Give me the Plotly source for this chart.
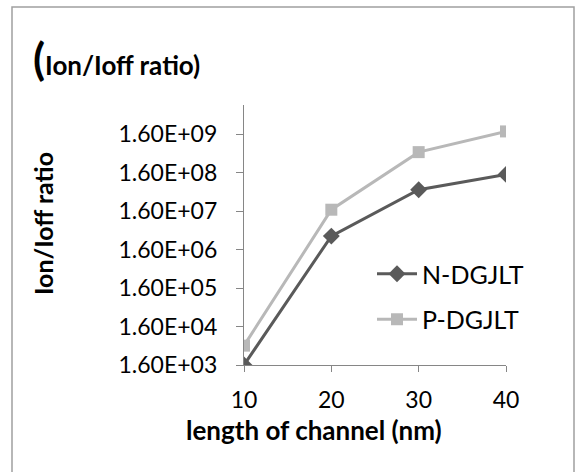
import math
import plotly.graph_objects as go

# Data
channel_length = [10, 20, 30, 40]
n_dgjlt = [1600, 3.6e6, 5.8e7, 1.45e8]
p_dgjlt = [5.1e3, 1.75e7, 5.5e8, 1.9e9]
y_tick_vals = [1.6e3, 1.6e4, 1.6e5, 1.6e6, 1.6e7, 1.6e8, 1.6e9]
y_tick_text = ["1.60E+03", "1.60E+04", "1.60E+05", "1.60E+06", "1.60E+07", "1.60E+08", "1.60E+09"]
x_tick_vals = [10, 20, 30, 40]

FONT = "Lato, 'Open Sans', sans-serif"
W, H = 579, 472
L, R, T, B = 244, 73, 105, 107
pw, ph = W - L - R, H - T - B

def px_x(p):
    return (p - L) / pw

def px_y(p):
    return (H - B - p) / ph

fig = go.Figure()
fig.add_trace(go.Scatter(
    x=channel_length, y=n_dgjlt, name="N-DGJLT", mode="lines+markers",
    line=dict(color="#5a5a5a", width=3),
    marker=dict(symbol="diamond", size=13, color="#5a5a5a"),
    legendgroup="n",
))
fig.add_trace(go.Scatter(
    x=channel_length, y=p_dgjlt, name="P-DGJLT", mode="lines+markers",
    line=dict(color="#b8b8b8", width=3),
    marker=dict(symbol="square", size=12, color="#b8b8b8"),
    legendgroup="p",
))

fig.update_layout(
    width=W, height=H,
    margin=dict(l=L, r=R, t=T, b=B),
    paper_bgcolor="white", plot_bgcolor="white",
    font=dict(family=FONT, size=23, color="black"),
    showlegend=True,
    legend=dict(
        x=px_x(372), y=px_y(251), xanchor="left", yanchor="top",
        bgcolor="rgba(0,0,0,0)", font=dict(size=25, family=FONT, color="black"),
        tracegroupgap=10, traceorder="grouped", itemwidth=40,
    ),
    xaxis=dict(
        range=[10, 40], tickvals=x_tick_vals, showgrid=False, zeroline=False,
        showline=True, linecolor="#868686", linewidth=1.3,
        ticks="outside", ticklen=6, tickcolor="#868686",
        ticklabelstandoff=8,
        tickfont=dict(size=23, family=FONT, color="black"),
    ),
    yaxis=dict(
        type="log", range=[math.log10(1600), 9.966],
        tickvals=y_tick_vals, ticktext=y_tick_text, showgrid=False, zeroline=False,
        showline=True, linecolor="#868686", linewidth=1.3,
        ticks="outside", ticklen=7, tickcolor="#868686",
        ticklabelstandoff=14,
        tickfont=dict(size=23, family=FONT, color="black"),
    ),
    shapes=[dict(
        type="rect", xref="paper", yref="paper",
        x0=px_x(12), x1=px_x(574), y0=px_y(500), y1=px_y(7),
        line=dict(color="#a0a0a0", width=1.5), fillcolor="rgba(0,0,0,0)", layer="below",
    )],
    annotations=[
        dict(text="<b><span style='font-size:44px'>(</span>Ion/Ioff ratio)</b>",
             xref="paper", yref="paper", x=px_x(31), y=px_y(58),
             xanchor="left", yanchor="middle", showarrow=False,
             font=dict(size=26, family=FONT, color="black")),
        dict(text="<b>Ion/Ioff ratio</b>", textangle=-90,
             xref="paper", yref="paper", x=px_x(43), y=px_y(224),
             xanchor="center", yanchor="middle", showarrow=False,
             font=dict(size=25, family=FONT, color="black")),
        dict(text="<b>length of channel (nm)</b>",
             xref="paper", yref="paper", x=px_x(314), y=px_y(430),
             xanchor="center", yanchor="middle", showarrow=False,
             font=dict(size=26, family=FONT, color="black")),
    ],
)

fig.write_html("out.html", config={"displayModeBar": False},
               post_script="document.body.style.margin='0';")
